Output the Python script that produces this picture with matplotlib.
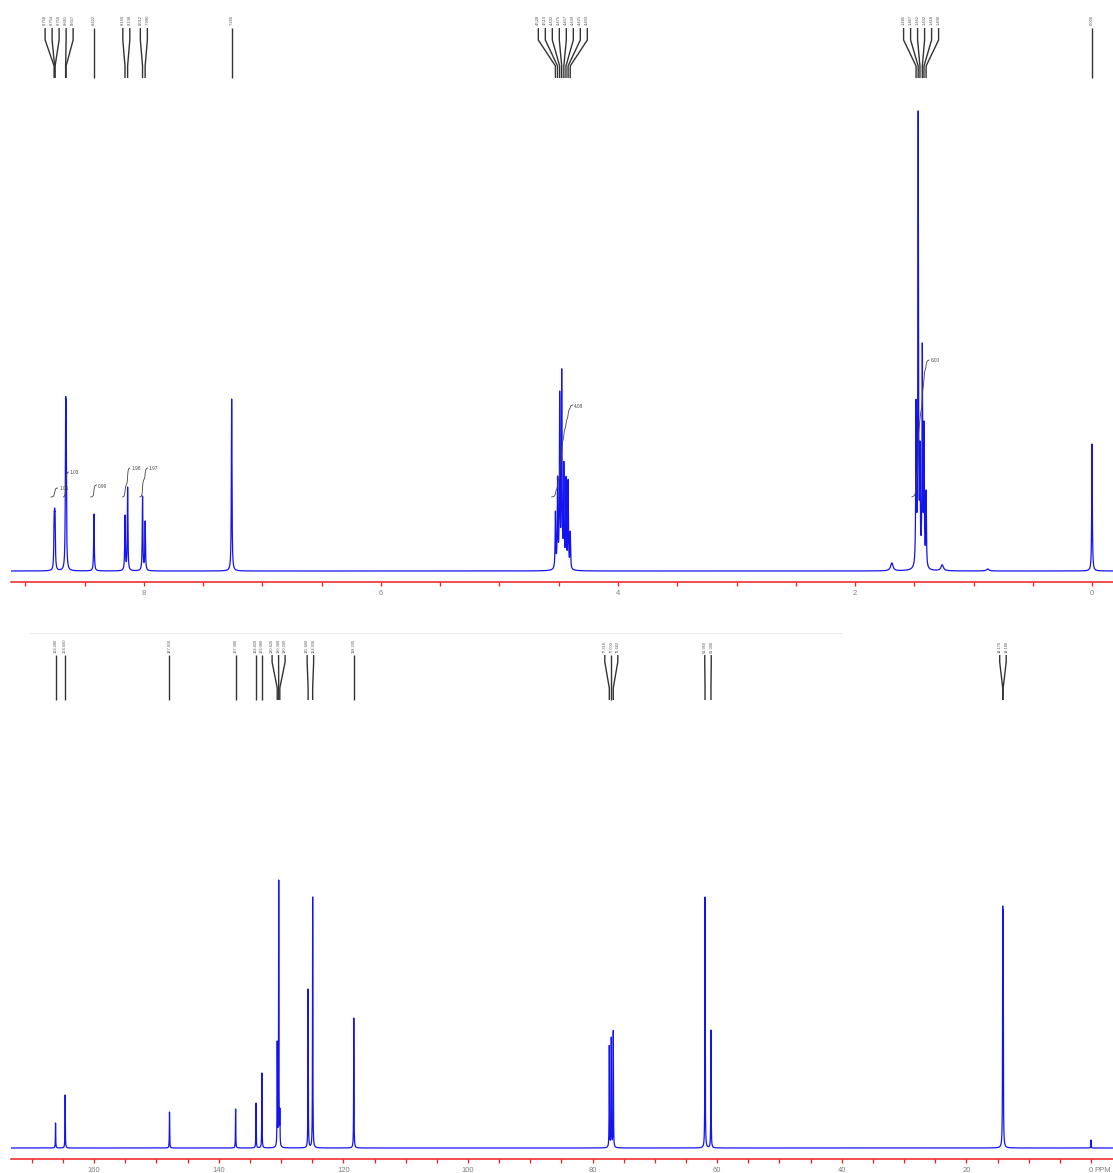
import numpy as np
import matplotlib
matplotlib.use("Agg")
import matplotlib.pyplot as plt

plt.rcParams["font.family"] = ["Liberation Sans", "DejaVu Sans"]

# ---------------- 1H NMR (CDCl3) ----------------
h_ppm = [8.758, 8.754, 8.750, 8.661, 8.657, 8.422, 8.160, 8.138, 8.012, 7.990, 7.260,
         4.528, 4.510, 4.492, 4.475, 4.457, 4.439, 4.421, 4.403,
         1.485, 1.467, 1.452, 1.432, 1.418, 1.400, 0.000]
h_height = [58, 63, 58, 170, 166, 57, 56, 84, 75, 50, 172,
            60, 95, 180, 203, 110, 95, 92, 40,
            172, 462, 130, 228, 150, 81, 127]
h_groups = [5, 1, 2, 2, 1, 8, 6, 1]           # lines sharing one label ladder
h_broad_ppm = [1.69, 1.265, 0.88]              # water / grease humps
h_broad_height = [8, 6, 2]

h_int_range = [(8.785, 8.728), (8.680, 8.636), (8.450, 8.400), (8.180, 8.120),
               (8.035, 7.970), (4.560, 4.380), (1.520, 1.375)]
h_int_top = [83, 99, 86, 103, 103, 166, 211]
h_int_label = ["1.01", "1.03", "0.99", "1.98", "1.97", "4.08", "6.00"]

h_ticks = [i * 0.5 for i in range(0, 19)]
h_tick_labels = ["0", "", "", "", "2", "", "", "", "4", "", "", "", "6", "", "", "", "8", "", ""]

# ---------------- 13C NMR (CDCl3) ----------------
c_ppm = [166.20, 164.66, 147.91, 137.30, 134.02, 133.08, 130.62, 130.38, 130.20,
         125.66, 124.93, 118.33, 77.318, 77.000, 76.682, 61.95, 61.00, 14.17, 14.10, 0.0]
c_height = [25, 53, 36, 39, 45, 75, 107, 268, 40,
            159, 251, 130, 103, 111, 118, 251, 118, 242, 238, 8]
c_groups = [1, 1, 1, 1, 1, 1, 3, 2, 1, 3, 2, 2]   # the TMS line is not labelled

c_ticks = list(range(0, 171, 5))
c_tick_labels = [str(t) if (t % 20 == 0 and t > 0) else ("0" if t == 0 else "") for t in c_ticks]

# ---------------- styling ----------------
W, H, DPI = 1113, 1173, 100
BLUE = "#1414f0"
RED = "#f01e1e"
GREY_TXT = "#808080"
LADDER = "#333333"


def lorentz_spectrum(grid, centers, apparent, hwhm):
    c = np.asarray(centers, float)
    a = np.asarray(apparent, float)
    m = 1.0 / (1.0 + ((c[:, None] - c[None, :]) / hwhm) ** 2)
    amp = np.linalg.solve(m, a)
    return (amp[None, :] / (1.0 + ((grid[:, None] - c[None, :]) / hwhm) ** 2)).sum(axis=1)


def px_to_ppm(ax, px):
    lo, hi = ax.get_xlim()
    width_px = ax.get_position().width * W
    return px * abs(hi - lo) / width_px


def draw_ladder(ax, centers, groups, spacing_px, ys, fontsize):
    y_text, y_top, y_b1, y_b2, y_bot = ys
    sp = px_to_ppm(ax, spacing_px)
    i = 0
    for n in groups:
        peaks = np.array(centers[i:i + n], float)
        mid = peaks.mean()
        offs = (np.arange(n) - (n - 1) / 2.0) * sp
        for p, lx in zip(peaks, mid - offs):
            ax.plot([lx, lx, p, p], [y_top, y_b1, y_b2, y_bot], color=LADDER,
                    lw=1.0, solid_capstyle="butt", clip_on=False)
            ax.text(lx, y_text, f"{p:.3f}", rotation=90, ha="center", va="bottom",
                    fontsize=fontsize, color="#555555", clip_on=False)
        i += n


def style_axis(ax, xlim, ylim, ticks, labels):
    ax.set_xlim(*xlim)
    ax.set_ylim(*ylim)
    ax.set_facecolor("none")
    for s in ("top", "left", "right"):
        ax.spines[s].set_visible(False)
    ax.spines["bottom"].set_color(RED)
    ax.spines["bottom"].set_linewidth(1.1)
    ax.set_yticks([])
    ax.set_xticks(ticks)
    ax.set_xticklabels(labels)
    ax.tick_params(axis="x", direction="out", length=3, width=0.9, color=RED,
                   labelcolor=GREY_TXT, labelsize=5.5, pad=2.5)


fig = plt.figure(figsize=(W / DPI, H / DPI), dpi=DPI)
left = 11 / W
width = (W - 11) / W

# ---- top panel: 1H ----
ax1 = fig.add_axes([left, 1 - 582 / H, width, 582 / H])
style_axis(ax1, (9.122, -0.177), (-11, 571), h_ticks, h_tick_labels)

h_grid = np.arange(9.13, -0.19, -0.0004)
h_spec = lorentz_spectrum(h_grid, h_ppm, h_height, 0.003)
for p, hgt in zip(h_broad_ppm, h_broad_height):
    h_spec += hgt / (1.0 + ((h_grid - p) / 0.012) ** 2)
ax1.plot(h_grid, h_spec, color=BLUE, lw=0.9)

draw_ladder(ax1, h_ppm, h_groups, 7.0, (546, 543, 531, 505, 493), 3.0)

for (hi, lo), top, lab in zip(h_int_range, h_int_top, h_int_label):
    m = (h_grid <= hi) & (h_grid >= lo)
    xs = h_grid[m]
    cum = np.cumsum(h_spec[m])
    cum = cum / cum[-1]
    ax1.plot(xs, 74 + (top - 74) * cum, color="#444444", lw=0.6)
    ax1.text(xs[-1] - px_to_ppm(ax1, 1.5), top - 1, lab, ha="left", va="center",
             fontsize=3.4, color="#444444")

# ---- bottom panel: 13C ----
ax2 = fig.add_axes([left, 1 - 1159 / H, width, (1159 - 605) / H])
style_axis(ax2, (173.35, -3.53), (-11, 543), c_ticks, c_tick_labels)

c_grid = np.arange(173.4, -3.6, -0.005)
c_spec = lorentz_spectrum(c_grid, c_ppm, c_height, 0.03)
ax2.plot(c_grid, c_spec, color=BLUE, lw=0.9)

draw_ladder(ax2, c_ppm, c_groups, 6.5, (495, 493, 486, 460, 448), 2.8)
ax2.axhline(515, xmin=(30 - 11) / (W - 11), xmax=(842 - 11) / (W - 11),
            color="#ececec", lw=0.8)

ax2.annotate("PPM", xy=(0, 0), xycoords=("data", "axes fraction"),
             xytext=(2.6, -5.5), textcoords="offset points", ha="left", va="top",
             fontsize=5.5, color=GREY_TXT, annotation_clip=False)

fig.savefig("out.png", dpi=DPI)
